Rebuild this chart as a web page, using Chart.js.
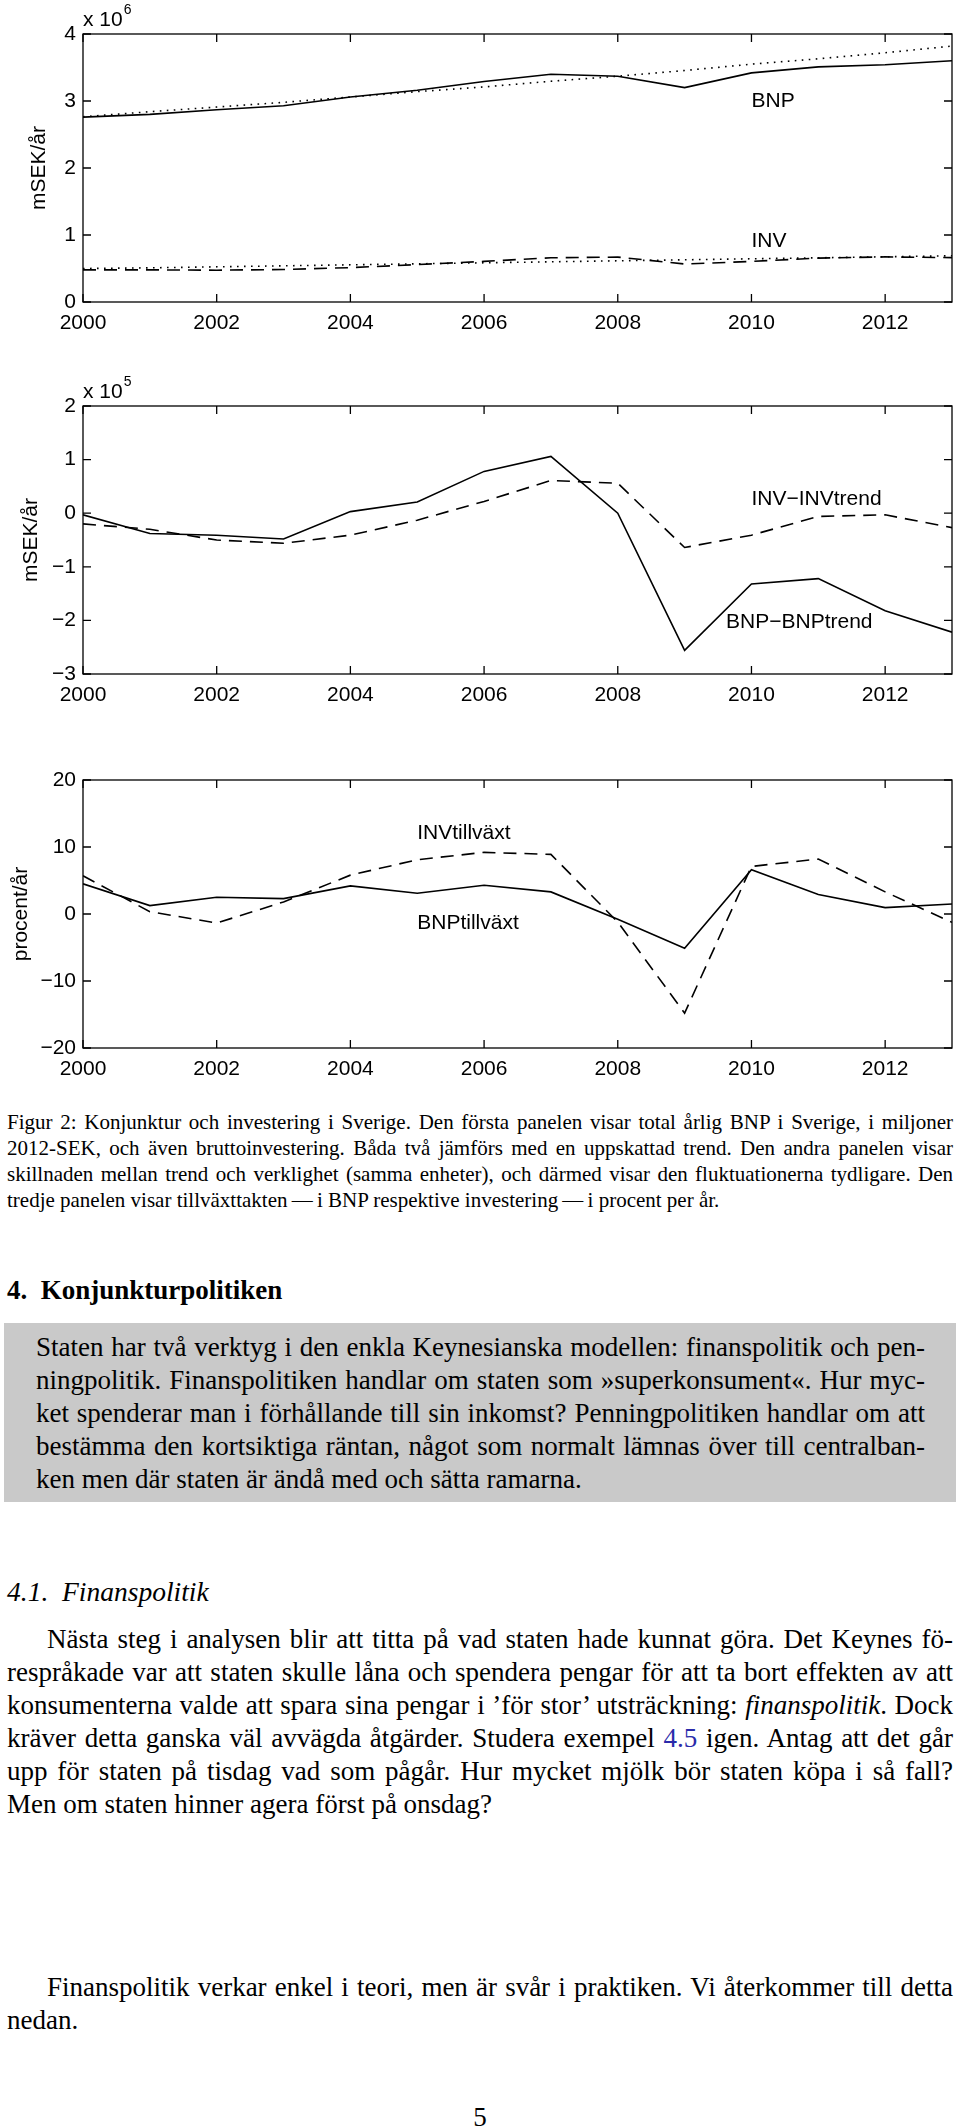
<!DOCTYPE html>
<html>
<head>
<meta charset="utf-8">
<script src="https://cdn.jsdelivr.net/npm/chart.js@4.4.1/dist/chart.umd.min.js"></script>
<style>
  html, body { margin: 0; padding: 0; background: #fff; }
  body { position: relative; width: 960px; height: 2127px; overflow: hidden; font-family: "Liberation Serif", "Times New Roman", serif; color: #000; }
  canvas.panel { position: absolute; left: 0; }
  .blk { position: absolute; left: 7px; width: 946px; }
  .blk div { white-space: nowrap; }
  .cap { font-size: 21px; line-height: 26px; top: 1109px; }
  .h1 { font-size: 27px; line-height: 27px; font-weight: bold; top: 1277px; }
  .box { position: absolute; left: 4px; top: 1323px; width: 952px; height: 179px; background: #c9c9c9; }
  .boxtxt { left: 36px; width: 889px; font-size: 27px; line-height: 33px; top: 1331px; }
  .h2 { font-size: 27.5px; line-height: 27px; font-style: italic; top: 1578px; }
  .para { font-size: 27px; line-height: 33px; }
  .ind { padding-left: 40px; }
  .ref { color: #2a2aaa; }
  .pg { position: absolute; left: 0; width: 960px; text-align: center; font-size: 27px; top: 2104px; line-height: 27px; }
</style>
</head>
<body>
<canvas class="panel" id="c1" width="960" height="340" style="top:0px"></canvas>
<canvas class="panel" id="c2" width="960" height="340" style="top:372px"></canvas>
<canvas class="panel" id="c3" width="960" height="340" style="top:746px"></canvas>

<div class="blk cap">
  <div class="j"><span>Figur 2: Konjunktur och investering i Sverige. Den första panelen visar total årlig BNP i Sverige, i miljoner</span></div>
  <div class="j"><span>2012-SEK, och även bruttoinvestering. Båda två jämförs med en uppskattad trend. Den andra panelen visar</span></div>
  <div class="j"><span>skillnaden mellan trend och verklighet (samma enheter), och därmed visar den fluktuationerna tydligare. Den</span></div>
  <div><span>tredje panelen visar tillväxttakten&thinsp;—&thinsp;i BNP respektive investering&thinsp;—&thinsp;i procent per år.</span></div>
</div>

<div class="blk h1"><div>4.&nbsp;&nbsp;Konjunkturpolitiken</div></div>

<div class="box"></div>
<div class="blk boxtxt">
  <div class="j"><span>Staten har två verktyg i den enkla Keynesianska modellen: finanspolitik och pen-</span></div>
  <div class="j"><span>ningpolitik. Finanspolitiken handlar om staten som »superkonsument«. Hur myc-</span></div>
  <div class="j"><span>ket spenderar man i förhållande till sin inkomst? Penningpolitiken handlar om att</span></div>
  <div class="j"><span>bestämma den kortsiktiga räntan, något som normalt lämnas över till centralban-</span></div>
  <div><span>ken men där staten är ändå med och sätta ramarna.</span></div>
</div>

<div class="blk h2"><div>4.1.&nbsp;&nbsp;Finanspolitik</div></div>

<div class="blk para" style="top:1623px">
  <div class="j ind"><span>Nästa steg i analysen blir att titta på vad staten hade kunnat göra. Det Keynes fö-</span></div>
  <div class="j"><span>respråkade var att staten skulle låna och spendera pengar för att ta bort effekten av att</span></div>
  <div class="j"><span>konsumenterna valde att spara sina pengar i ’för stor’ utsträckning: <i>finanspolitik</i>. Dock</span></div>
  <div class="j"><span>kräver detta ganska väl avvägda åtgärder. Studera exempel <span class="ref">4.5</span> igen. Antag att det går</span></div>
  <div class="j"><span>upp för staten på tisdag vad som pågår. Hur mycket mjölk bör staten köpa i så fall?</span></div>
  <div><span>Men om staten hinner agera först på onsdag?</span></div>
</div>

<div class="blk para" style="top:1971px">
  <div class="j ind"><span>Finanspolitik verkar enkel i teori, men är svår i praktiken. Vi återkommer till detta</span></div>
  <div><span>nedan.</span></div>
</div>

<div class="pg">5</div>

<script>
// years on the x axis
const years = [2000, 2001, 2002, 2003, 2004, 2005, 2006, 2007, 2008, 2009, 2010, 2011, 2012, 2013];

// panel 1, in units of 10^6 mSEK/år
const bnp      = [2.76, 2.80, 2.87, 2.93, 3.06, 3.16, 3.29, 3.40, 3.37, 3.20, 3.42, 3.51, 3.54, 3.60];
const bnpTrend = [2.765, 2.84, 2.91, 2.98, 3.06, 3.14, 3.21, 3.295, 3.37, 3.455, 3.55, 3.63, 3.72, 3.82];
const inv      = [0.48, 0.48, 0.475, 0.485, 0.513, 0.558, 0.607, 0.66, 0.67, 0.567, 0.605, 0.655, 0.673, 0.662];
const invTrend = [0.50, 0.51, 0.525, 0.54, 0.555, 0.57, 0.585, 0.60, 0.615, 0.63, 0.645, 0.66, 0.675, 0.69];

// panel 2, in units of 10^5 mSEK/år
const bnpGap = [-0.03, -0.38, -0.41, -0.48, 0.03, 0.21, 0.78, 1.06, 0.0, -2.56, -1.32, -1.22, -1.82, -2.22];
const invGap = [-0.2, -0.3, -0.5, -0.56, -0.41, -0.13, 0.22, 0.61, 0.56, -0.64, -0.41, -0.06, -0.03, -0.27];

// panel 3, procent/år
const bnpGrowth = [4.5, 1.25, 2.5, 2.3, 4.2, 3.1, 4.3, 3.3, -0.8, -5.1, 6.6, 2.9, 0.95, 1.5];
const invGrowth = [5.7, 0.35, -1.35, 1.8, 5.8, 8.1, 9.2, 8.9, -1.2, -14.8, 7.1, 8.2, 3.3, -1.25];

// axis ranges and tick labels
const xTicks = [2000, 2002, 2004, 2006, 2008, 2010, 2012];
const yRange1 = [0, 4], yRange2 = [-3, 2], yRange3 = [-20, 20];

const FONT = '"Liberation Sans", Arial, Helvetica, sans-serif';
Chart.defaults.font.family = FONT;
Chart.defaults.font.size = 21;
Chart.defaults.color = '#000';

const pts = vals => vals.map((v, i) => ({ x: years[i], y: v }));
const minus = s => String(s).replace('-', '\u2212');

// matlab-like box with inner ticks, text notes and exponent
const frame = {
  id: 'frame',
  afterDatasetsDraw(chart, args, opts) {
    const { ctx, chartArea: a, scales: { x, y } } = chart;
    ctx.save();
    ctx.strokeStyle = '#000';
    ctx.lineWidth = 1.3;
    ctx.strokeRect(a.left, a.top, a.right - a.left, a.bottom - a.top);
    ctx.beginPath();
    x.ticks.forEach(t => {
      const px = x.getPixelForValue(t.value);
      ctx.moveTo(px, a.bottom); ctx.lineTo(px, a.bottom - 8);
      ctx.moveTo(px, a.top); ctx.lineTo(px, a.top + 8);
    });
    y.ticks.forEach(t => {
      const py = y.getPixelForValue(t.value);
      ctx.moveTo(a.left, py); ctx.lineTo(a.left + 8, py);
      ctx.moveTo(a.right, py); ctx.lineTo(a.right - 8, py);
    });
    ctx.stroke();

    ctx.fillStyle = '#000';
    ctx.textAlign = 'left';
    ctx.textBaseline = 'middle';
    ctx.font = '21px ' + FONT;
    (opts.notes || []).forEach(n => {
      ctx.fillText(n.text, x.getPixelForValue(n.x), y.getPixelForValue(n.y));
    });
    if (opts.exponent) {
      ctx.fillText('x 10', a.left, a.top - 14);
      const w = ctx.measureText('x 10').width;
      ctx.font = '14px ' + FONT;
      ctx.fillText(opts.exponent, a.left + w + 1, a.top - 24);
    }
    ctx.restore();
  }
};

function makeChart(id, datasets, yRange, title, titlePad, notes, exponent) {
  return new Chart(document.getElementById(id), {
    type: 'line',
    data: { datasets },
    options: {
      responsive: false,
      animation: false,
      devicePixelRatio: 1,
      layout: { padding: { top: 34, right: 8, left: 0, bottom: 0 } },
      elements: { point: { radius: 0 }, line: { tension: 0, borderColor: '#000', borderWidth: 1.6 } },
      plugins: {
        legend: { display: false },
        tooltip: { enabled: false },
        frame: { notes, exponent }
      },
      scales: {
        x: {
          type: 'linear', min: years[0], max: years[years.length - 1],
          grid: { display: false, drawTicks: false },
          border: { display: false },
          afterFit: s => { s.height = 38; },
          afterBuildTicks: s => { s.ticks = xTicks.map(v => ({ value: v })); },
          ticks: { padding: 9, maxRotation: 0, autoSkip: false, callback: v => String(v) }
        },
        y: {
          min: yRange[0], max: yRange[1],
          grid: { display: false, drawTicks: false },
          border: { display: false },
          afterFit: s => { s.width = 83; },
          title: { display: true, text: title, font: { size: 21 }, padding: { top: titlePad, bottom: 0 } },
          ticks: { padding: 7, stepSize: yRange[1] - yRange[0] > 10 ? 10 : 1, callback: v => minus(v) }
        }
      }
    },
    plugins: [frame]
  });
}

const line = (vals, dash) => ({ data: pts(vals), borderColor: '#000', borderWidth: 1.6, borderDash: dash, fill: false });
const DOT = [1.6, 5.4], DASH = [13, 8];

makeChart('c1', [
  line(bnp, []), line(bnpTrend, DOT), line(inv, DASH), line(invTrend, DOT)
], yRange1, 'mSEK/år', 27, [
  { text: 'BNP', x: 2010, y: 3.0 }, { text: 'INV', x: 2010, y: 0.9 }
], '6');

makeChart('c2', [
  line(bnpGap, []), line(invGap, DASH)
], yRange2, 'mSEK/år', 19, [
  { text: 'INV\u2212INVtrend', x: 2010, y: 0.26 }, { text: 'BNP\u2212BNPtrend', x: 2009.62, y: -2.03 }
], '5');

makeChart('c3', [
  line(bnpGrowth, []), line(invGrowth, DASH)
], yRange3, 'procent/år', 9, [
  { text: 'INVtillväxt', x: 2005, y: 12 }, { text: 'BNPtillväxt', x: 2005, y: -1.3 }
], null);

// justify each full line by spreading its word spaces
document.querySelectorAll('.j').forEach(el => {
  const span = el.firstElementChild;
  const style = getComputedStyle(el);
  const target = el.clientWidth - parseFloat(style.paddingLeft) - parseFloat(style.paddingRight);
  const natural = span.getBoundingClientRect().width;
  const spaces = (span.textContent.match(/ /g) || []).length;
  if (spaces) span.style.wordSpacing = ((target - natural) / spaces) + 'px';
});
</script>
</body>
</html>
